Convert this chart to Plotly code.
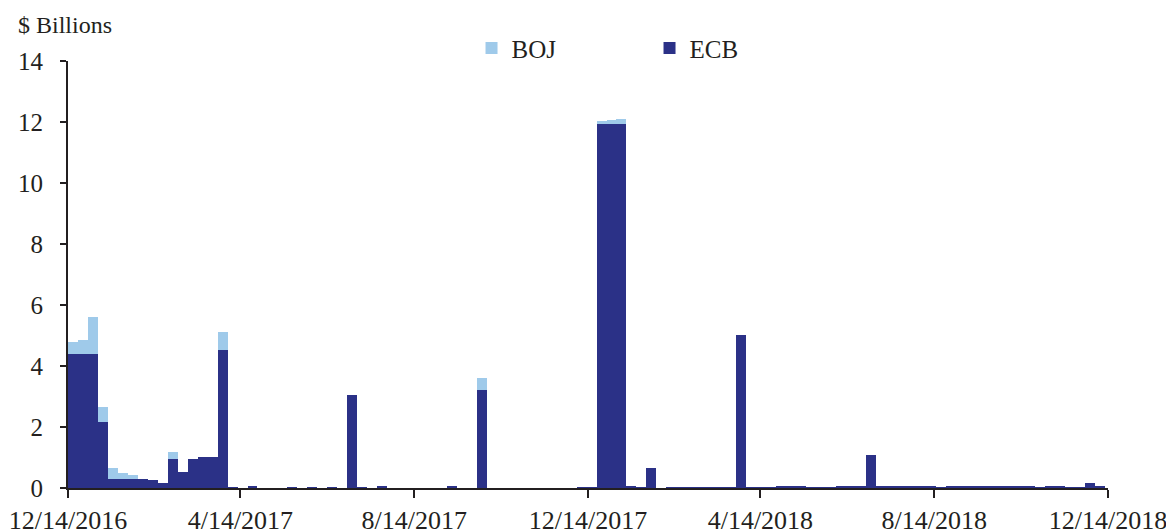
import pandas as pd
import plotly.graph_objects as go

# Weekly observations starting 12/14/2016 ($ billions)
week_start = pd.date_range("2016-12-14", periods=104, freq="7D")

ecb = [
    4.38, 4.38, 4.38, 2.15, 0.28, 0.28, 0.28, 0.29, 0.25, 0.18,
    0.95, 0.52, 0.94, 1.02, 1.02, 4.53, 0.01, 0.00, 0.05, 0.00,
    0.00, 0.00, 0.01, 0.00, 0.01, 0.00, 0.01, 0.00, 3.05, 0.03,
    0.00, 0.07, 0.00, 0.00, 0.00, 0.00, 0.00, 0.00, 0.05, 0.00,
    0.00, 3.22, 0.00, 0.00, 0.00, 0.00, 0.00, 0.00, 0.00, 0.00,
    0.00, 0.01, 0.03, 11.93, 11.93, 11.93, 0.08, 0.03, 0.66, 0.00,
    0.02, 0.02, 0.02, 0.02, 0.02, 0.03, 0.03, 5.02, 0.02, 0.02,
    0.02, 0.08, 0.05, 0.05, 0.03, 0.01, 0.02, 0.04, 0.04, 0.04,
    1.07, 0.04, 0.04, 0.07, 0.05, 0.05, 0.06, 0.01, 0.05, 0.05,
    0.05, 0.05, 0.05, 0.05, 0.05, 0.04, 0.04, 0.02, 0.04, 0.04,
    0.03, 0.01, 0.15, 0.08,
]

boj = [
    0.40, 0.47, 1.24, 0.50, 0.36, 0.20, 0.15, 0.00, 0.00, 0.00,
    0.22, 0.00, 0.00, 0.00, 0.00, 0.57, 0.00, 0.00, 0.00, 0.00,
    0.00, 0.00, 0.00, 0.00, 0.00, 0.00, 0.00, 0.00, 0.00, 0.00,
    0.00, 0.00, 0.00, 0.00, 0.00, 0.00, 0.00, 0.00, 0.00, 0.00,
    0.00, 0.40, 0.00, 0.00, 0.00, 0.00, 0.00, 0.00, 0.00, 0.00,
    0.00, 0.00, 0.00, 0.10, 0.15, 0.17, 0.00, 0.00, 0.00, 0.00,
    0.00, 0.00, 0.00, 0.00, 0.00, 0.00, 0.00, 0.00, 0.00, 0.00,
    0.00, 0.00, 0.00, 0.00, 0.00, 0.00, 0.00, 0.00, 0.00, 0.00,
    0.00, 0.00, 0.00, 0.00, 0.00, 0.00, 0.00, 0.00, 0.00, 0.00,
    0.00, 0.00, 0.00, 0.00, 0.00, 0.00, 0.00, 0.00, 0.00, 0.00,
    0.00, 0.00, 0.00, 0.00,
]

tick_dates = ["2016-12-14", "2017-04-14", "2017-08-14", "2017-12-14",
              "2018-04-14", "2018-08-14", "2018-12-14"]
tick_labels = ["12/14/2016", "4/14/2017", "8/14/2017", "12/14/2017",
               "4/14/2018", "8/14/2018", "12/14/2018"]

DARK = "#2b3187"
LIGHT = "#9fcaea"
TXT = "#231f20"
FONT = "Liberation Serif"
WEEK_MS = 7 * 24 * 3600 * 1000

fig = go.Figure()
fig.add_trace(go.Bar(x=week_start, y=ecb, name="ECB", marker=dict(color=DARK, line=dict(width=0)),
                     width=WEEK_MS, offset=0))
fig.add_trace(go.Bar(x=week_start, y=boj, name="BOJ", marker=dict(color=LIGHT, line=dict(width=0)),
                     width=WEEK_MS, offset=0))

# The page body has an 8px default margin, so the figure is sized to fit inside it.
fig.update_layout(
    barmode="stack",
    bargap=0,
    width=1166, height=523,
    margin=dict(l=60, r=66, t=53, b=43, autoexpand=False),
    paper_bgcolor="white", plot_bgcolor="white",
    font=dict(family=FONT, size=25, color=TXT),
    showlegend=True,
    legend=dict(orientation="h", traceorder="reversed",
                x=0.388, xanchor="left", y=1.03, yanchor="middle",
                entrywidth=133, entrywidthmode="pixels",
                font=dict(family=FONT, size=25, color=TXT),
                bgcolor="rgba(0,0,0,0)"),
    annotations=[dict(text="$ Billions", xref="paper", yref="paper",
                      x=-0.0497, y=1.084, xanchor="left", yanchor="middle",
                      showarrow=False, font=dict(family=FONT, size=24, color=TXT))],
)

fig.update_xaxes(type="date", range=["2016-12-14", "2018-12-14"],
                 tickvals=tick_dates, ticktext=tick_labels,
                 showline=True, linecolor=TXT, linewidth=2,
                 ticks="outside", ticklen=8, tickwidth=2, tickcolor=TXT,
                 showgrid=False, zeroline=False, automargin=False,
                 tickfont=dict(family=FONT, size=26, color=TXT))
fig.update_yaxes(range=[0, 14], dtick=2, tick0=0,
                 showline=True, linecolor=TXT, linewidth=2,
                 ticks="outside", ticklen=6, tickwidth=2, tickcolor=TXT,
                 ticklabelstandoff=12,
                 showgrid=False, zeroline=False, automargin=False,
                 tickfont=dict(family=FONT, size=25, color=TXT))

fig.write_html("out.html")
